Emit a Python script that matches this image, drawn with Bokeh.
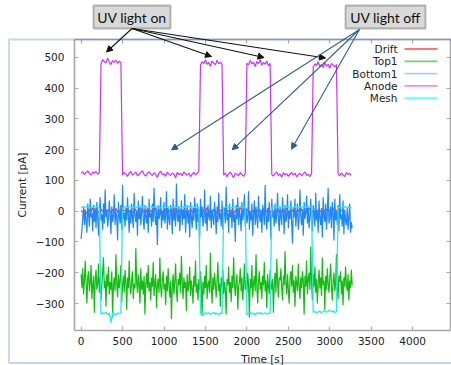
from bokeh.plotting import figure
from bokeh.models import (Range1d, LinearAxis, FixedTicker, BoxAnnotation, Label,
                          Arrow, NormalHead)
from bokeh.embed import file_html
from bokeh.resources import INLINE

# ---------------- data ----------------
# sampling interval of each recorded channel, seconds
drift_step_s = 20
top1_step_s = 10
bottom1_step_s = 10
anode_step_s = 20
mesh_step_s = 20

drift = [2,-3,5,-8,1,4,-2,12,-5,3,0,-6,7,-1,3,-11,4,2,-4,6,-2,9,-3,1,-7,5,2,-1,14,-4,
         3,-2,0,6,-9,2,4,-3,1,-5,8,-2,3,-6,0,11,-4,2,5,-1,-3,7,-8,2,0,4,-2,13,-5,1,
         3,-4,6,-1,-10,2,5,-3,0,8,-2,4,-6,1,3,-1,12,-4,2,-3,6,0,-7,4,1,-2,9,-5,3,0,
         -3,5,-8,2,4,-1,15,-4,1,-2,6,3,-6,0,2,-9,5,-1,3,-4,7,1,-2,11,-5,2,0,4,-3,6,
         -7,1,3,-2,10,-4,2,-1,5,-6,0,3,-3,8,-2,1,-5,4,12,-3,2,0,-6,5,-1,3,-8,2,6,-2,
         1,-4,9,-1,3,-5,0,4,-2,3]

top1 = [-205,-250,-185,-270,-225,-160,-240,-300,-215,-195,-260,-230,-175,-285,-240,-210,-330,-225,-190,-255,
        -235,-170,-265,-215,-290,-240,-200,-150,-250,-225,-310,-205,-245,-180,-270,-230,-255,-195,-345,-240,
        -215,-260,-140,-235,-280,-205,-250,-225,-175,-295,-240,-210,-265,-190,-230,-320,-215,-250,-160,-245,
        -270,-220,-195,-285,-235,-250,-120,-230,-265,-205,-240,-300,-185,-255,-225,-270,-210,-335,-240,-200,
        -250,-175,-260,-230,-290,-215,-245,-165,-275,-235,-205,-315,-240,-220,-265,-150,-245,-280,-225,-195,
        -255,-235,-305,-210,-260,-185,-240,-280,-225,-350,-245,-205,-270,-230,-170,-255,-295,-220,-240,-200,
        -265,-145,-235,-285,-215,-250,-230,-325,-205,-260,-240,-180,-275,-225,-250,-300,-210,-245,-160,-265,
        -235,-290,-220,-255,-195,-240,-340,-230,-270,-210,-250,-175,-285,-240,-225,-265,-135,-245,-300,-215,
        -255,-200,-240,-280,-225,-165,-260,-235,-310,-215,-245,-190,-270,-230,-255,-335,-220,-240,-180,-265,
        -230,-295,-210,-250,-150,-240,-275,-225,-205,-320,-245,-230,-185,-260,-215,-290,-240,-170,-255,-225,
        -265,-200,-240,-345,-220,-250,-175,-280,-235,-210,-260,-140,-245,-300,-225,-195,-255,-230,-285,-210,
        -240,-165,-260,-225,-315,-205,-245,-270,-190,-235,-255,-220,-330,-240,-200,-265,-155,-230,-280,-215,
        -225,-185,-250,-290,-210,-240,-130,-235,-270,-205,-255,-300,-220,-195,-245,-175,-265,-225,-310,-210,
        -235,-260,-170,-240,-285,-215,-250,-195,-225,-335,-210,-245,-160,-270,-220,-200,-255,-115,-230,-290,
        -205,-245,-180,-265,-220,-300,-235,-190,-250,-215,-275,-150,-240,-225,-320,-210,-255,-185,-235,-265,
        -215,-170,-245,-290,-225,-200,-260,-235,-140,-250,-285,-210,-230,-195,-270,-225,-305,-215,-245,-180,
        -235,-260,-205,-290,-225,-250,-190,-240]

bottom1 = [-90,-60,-20,15,-45,5,-30,-70,25,-10,-50,40,-20,-5,-65,20,-35,10,-55,30,
           -15,-80,0,45,-30,-10,-60,25,-40,70,-20,5,-50,-25,35,-5,-75,15,-35,-15,
           55,-45,0,-20,-95,30,-10,-40,20,-60,85,-25,-5,-50,10,-30,45,-15,-70,5,
           -40,25,-20,-55,60,-10,-35,0,-80,35,-25,15,-45,-5,50,-30,-60,20,-15,-40,
           10,-70,40,-20,-5,-50,25,-35,75,-15,-45,5,-110,20,-25,-10,45,-55,0,-30,
           30,-40,-15,65,-60,10,-25,-45,20,-5,-75,40,-30,0,-50,90,-20,-35,15,-65,
           -10,35,-45,5,-25,55,-70,-15,20,-40,0,-85,30,-20,-55,10,-30,45,-10,-60,
           25,-35,-5,-90,40,-20,15,-50,-25,70,-40,0,-65,20,-15,-30,50,-55,5,-20,
           -45,30,-10,-75,15,-35,60,-25,-5,-50,35,-60,-15,10,-40,80,-30,-5,-70,25,
           -20,0,-55,40,-35,-10,-100,20,-25,45,-45,5,-15,-65,30,-30,-5,55,-50,10,
           -40,-20,65,-60,0,-30,25,-80,-10,35,-45,15,-25,-55,50,-15,-35,5,-70,20,
           -5,-45,85,-25,-60,10,-35,30,-15,-90,40,-20,0,-50,25,-40,-10,60,-30,-65,
           15,-20,-45,45,-5,-75,20,-35,-15,55,-55,0,-25,35,-40,-105,10,-20,40,-50,
           -10,25,-60,-30,70,-15,-45,5,-80,30,-25,-5,50,-40,15,-55,-20,40,-35,-65,
           20,-10,-50,60,-30,0,-70,35,-20,-45,10,-85,45,-15,-35,25,-60,-5,75,-40,
           -20,15,-55,30,-10,-95,40,-30,0,-45,20,-65,55,-25,-10,-50,35,-75,5,-30,
           -45,10,-60,-20,25,-70,-35,-55]

anode = ([124,128,119,126,131,122,117,127,123,129,120,125] +
         [478,492,486,481,497,484,476,489,483,491,480,487,482] +
         [118,126,121,113,124,129,117,122,127,115,120,125,131,119,114,123,128,121,116,125,
          119,110,124,130,118,122,113,127,120,116,124,121,108,126,119,123,115,128,121,117,
          124,112,120,126,118,123,129] +
         [474,486,479,492,477,483,470,488,481,475,490,479,484,476] +
         [117,124,112,121,127,118,109,123,120,115,126,119,113,122] +
         [481,475,489,478,484,470,486,479,492,474,483,477,488,472,480] +
         [119,114,123,127,116,121,110,125,118,122,113,120,126,117,124,111,119,123,115,121,
          128,116,120,112,122] +
         [468,479,473,485,470,476,466,482,471,477,464,480,474,469,476] +
         [121,115,124,118,112,126,119,122,116])

mesh = ([13,14,12,15,13,14,12,13,15,14,13,12] +
        [-335,-330,-333,-328,-336,-331,-362,-329,-332,-337,-330,-333,-331] +
        [12,14,13,11,15,13,12,14,13,12,15,14,13,11,12,14,13,15,12,13,
         14,12,11,13,15,14,12,13,14,12,13,15,13,12,14,11,13,14,12,13,
         15,12,14,13,12,14,13] +
        [-334,-331,-336,-329,-333,-330,-335,-332,-328,-334,-331,-337,-330,-333] +
        [13,12,14,15,13,12,14,13,11,14,13,12,15,13] +
        [-336,-332,-329,-334,-331,-337,-330,-333,-328,-335,-332,-330,-334,-331,-333] +
        [12,14,13,15,12,13,14,12,13,15,14,12,13,11,14,13,12,15,13,14,12,13,14,12,13] +
        [-329,-325,-331,-327,-324,-330,-326,-322,-328,-325,-321,-327,-324,-329,-326] +
        [13,14,12,13,15,12,14,13,12])

series_names = ["Drift", "Top1", "Bottom1", "Anode", "Mesh"]
series_values = [drift, top1, bottom1, anode, mesh]
series_steps = [drift_step_s, top1_step_s, bottom1_step_s, anode_step_s, mesh_step_s]
series_colors = ["#e83030", "#14bb14", "#1f86ff", "#c833ff", "#22eaea"]
series_widths = [1.2, 1.2, 1.2, 1.2, 1.3]
legend_colors = ["#ff7777", "#77cc77", "#a8cfff", "#ee8cff", "#66ffff"]

x_ticks = [0, 500, 1000, 1500, 2000, 2500, 3000, 3500, 4000]
y_ticks = [-300, -200, -100, 0, 100, 200, 300, 400, 500]
x_axis_span = (-80, 4456)      # extent of the plot border in data units
y_axis_span = (-387.3, 557.5)

label_on = "UV light on"
label_off = "UV light off"
x_title = "Time [s]"
y_title = "Current [pA]"

# ---------------- figure ----------------
W, H = 451, 365
FONT = "DejaVu Sans"
FS = "10.5px"
AXIS_C = "#a8a8a8"

p = figure(width=W, height=H, output_backend="svg", toolbar_location=None,
           x_range=Range1d(-972.3, 4468), y_range=Range1d(-501, 684.1),
           min_border=0, min_border_left=0, min_border_right=0,
           min_border_top=0, min_border_bottom=0,
           x_axis_location=None, y_axis_location=None)
p.xgrid.visible = False
p.ygrid.visible = False
p.outline_line_color = None
p.background_fill_color = "white"
p.border_fill_color = "white"


def style_axis(ax, labels=True):
    ax.axis_line_color = AXIS_C
    ax.axis_line_width = 1.6
    ax.major_tick_line_color = AXIS_C
    ax.major_tick_line_width = 1.2
    ax.major_tick_in = 4
    ax.major_tick_out = 0
    ax.minor_tick_line_color = None
    ax.major_label_text_font = FONT
    ax.major_label_text_font_size = FS
    ax.major_label_text_color = "#222222" if labels else None
    ax.axis_label_text_font = FONT
    ax.axis_label_text_font_size = FS
    ax.axis_label_text_font_style = "normal"
    ax.axis_label_text_color = "#222222"


bottom_ax = LinearAxis(ticker=FixedTicker(ticks=x_ticks), fixed_location=y_axis_span[0],
                       bounds=x_axis_span, axis_label=x_title)
left_ax = LinearAxis(ticker=FixedTicker(ticks=y_ticks), fixed_location=x_axis_span[0],
                     bounds=y_axis_span, axis_label=y_title)
top_ax = LinearAxis(ticker=FixedTicker(ticks=x_ticks), fixed_location=y_axis_span[1],
                    bounds=x_axis_span)
right_ax = LinearAxis(ticker=FixedTicker(ticks=y_ticks), fixed_location=x_axis_span[1],
                      bounds=y_axis_span)
style_axis(bottom_ax)
style_axis(left_ax)
style_axis(top_ax, labels=False)
style_axis(right_ax, labels=False)
bottom_ax.major_label_standoff = 7
bottom_ax.axis_label_standoff = 4
left_ax.major_label_standoff = 10
left_ax.axis_label_standoff = 5
p.add_layout(bottom_ax, "below")
p.add_layout(left_ax, "left")
p.add_layout(top_ax, "above")
p.add_layout(right_ax, "right")

# traces (gnuplot order)
for vals, step, col, lw in zip(series_values, series_steps, series_colors, series_widths):
    t = [i * step for i in range(len(vals))]
    p.line(t, vals, line_color=col, line_width=lw)

# ---------------- annotations (screen units; frame == whole canvas) ----------------
def sy(page_y):
    return H - page_y

# outer blue frame
p.add_layout(BoxAnnotation(left=8.5, right=W + 5, bottom=sy(362.5), top=sy(39),
                           left_units="screen", right_units="screen",
                           bottom_units="screen", top_units="screen",
                           fill_alpha=0, line_color="#3f74b5", line_width=1.8))

# callout boxes
for (l, r), txt in [((93, 170), label_on), ((345, 425), label_off)]:
    p.add_layout(BoxAnnotation(left=l, right=r, bottom=sy(28), top=sy(5),
                               left_units="screen", right_units="screen",
                               bottom_units="screen", top_units="screen",
                               fill_color="#d9d9d9", fill_alpha=1,
                               line_color="#1a1a1a", line_width=1.8))
    p.add_layout(Label(x=(l + r) / 2, y=sy(16.5), x_units="screen", y_units="screen",
                       text=txt, text_align="center", text_baseline="middle",
                       text_font="Lato", text_font_size="14px", text_color="#111111"))

on_start = (131.5, 28)
on_ends = [(106, 51.5), (211, 56), (263.5, 57), (325, 57.5)]
for ex, ey in on_ends:
    p.add_layout(Arrow(x_start=on_start[0], y_start=sy(on_start[1]), x_end=ex, y_end=sy(ey),
                       start_units="screen", end_units="screen",
                       line_color="#111111", line_width=1.1,
                       end=NormalHead(size=6, fill_color="#111111", line_color="#111111")))

off_start = (359, 29)
off_ends = [(171, 149.3), (231.7, 149.3), (291, 148.7)]
for ex, ey in off_ends:
    p.add_layout(Arrow(x_start=off_start[0], y_start=sy(off_start[1]), x_end=ex, y_end=sy(ey),
                       start_units="screen", end_units="screen",
                       line_color="#2f5e8e", line_width=1.1,
                       end=NormalHead(size=6, fill_color="#2f5e8e", line_color="#2f5e8e")))

# legend (gnuplot style: text then sample line on the right)
for k, (name, col) in enumerate(zip(series_names, legend_colors)):
    yy = sy(48.5 + 12.3 * k)
    p.add_layout(Label(x=397, y=yy, x_units="screen", y_units="screen", text=name,
                       text_align="right", text_baseline="middle",
                       text_font=FONT, text_font_size=FS, text_color="#222222"))
    p.add_layout(Arrow(x_start=404, y_start=yy, x_end=437, y_end=yy,
                       start_units="screen", end_units="screen", end=None,
                       line_color=col, line_width=1.8))

open("out.html", "w").write(file_html(p, INLINE))
